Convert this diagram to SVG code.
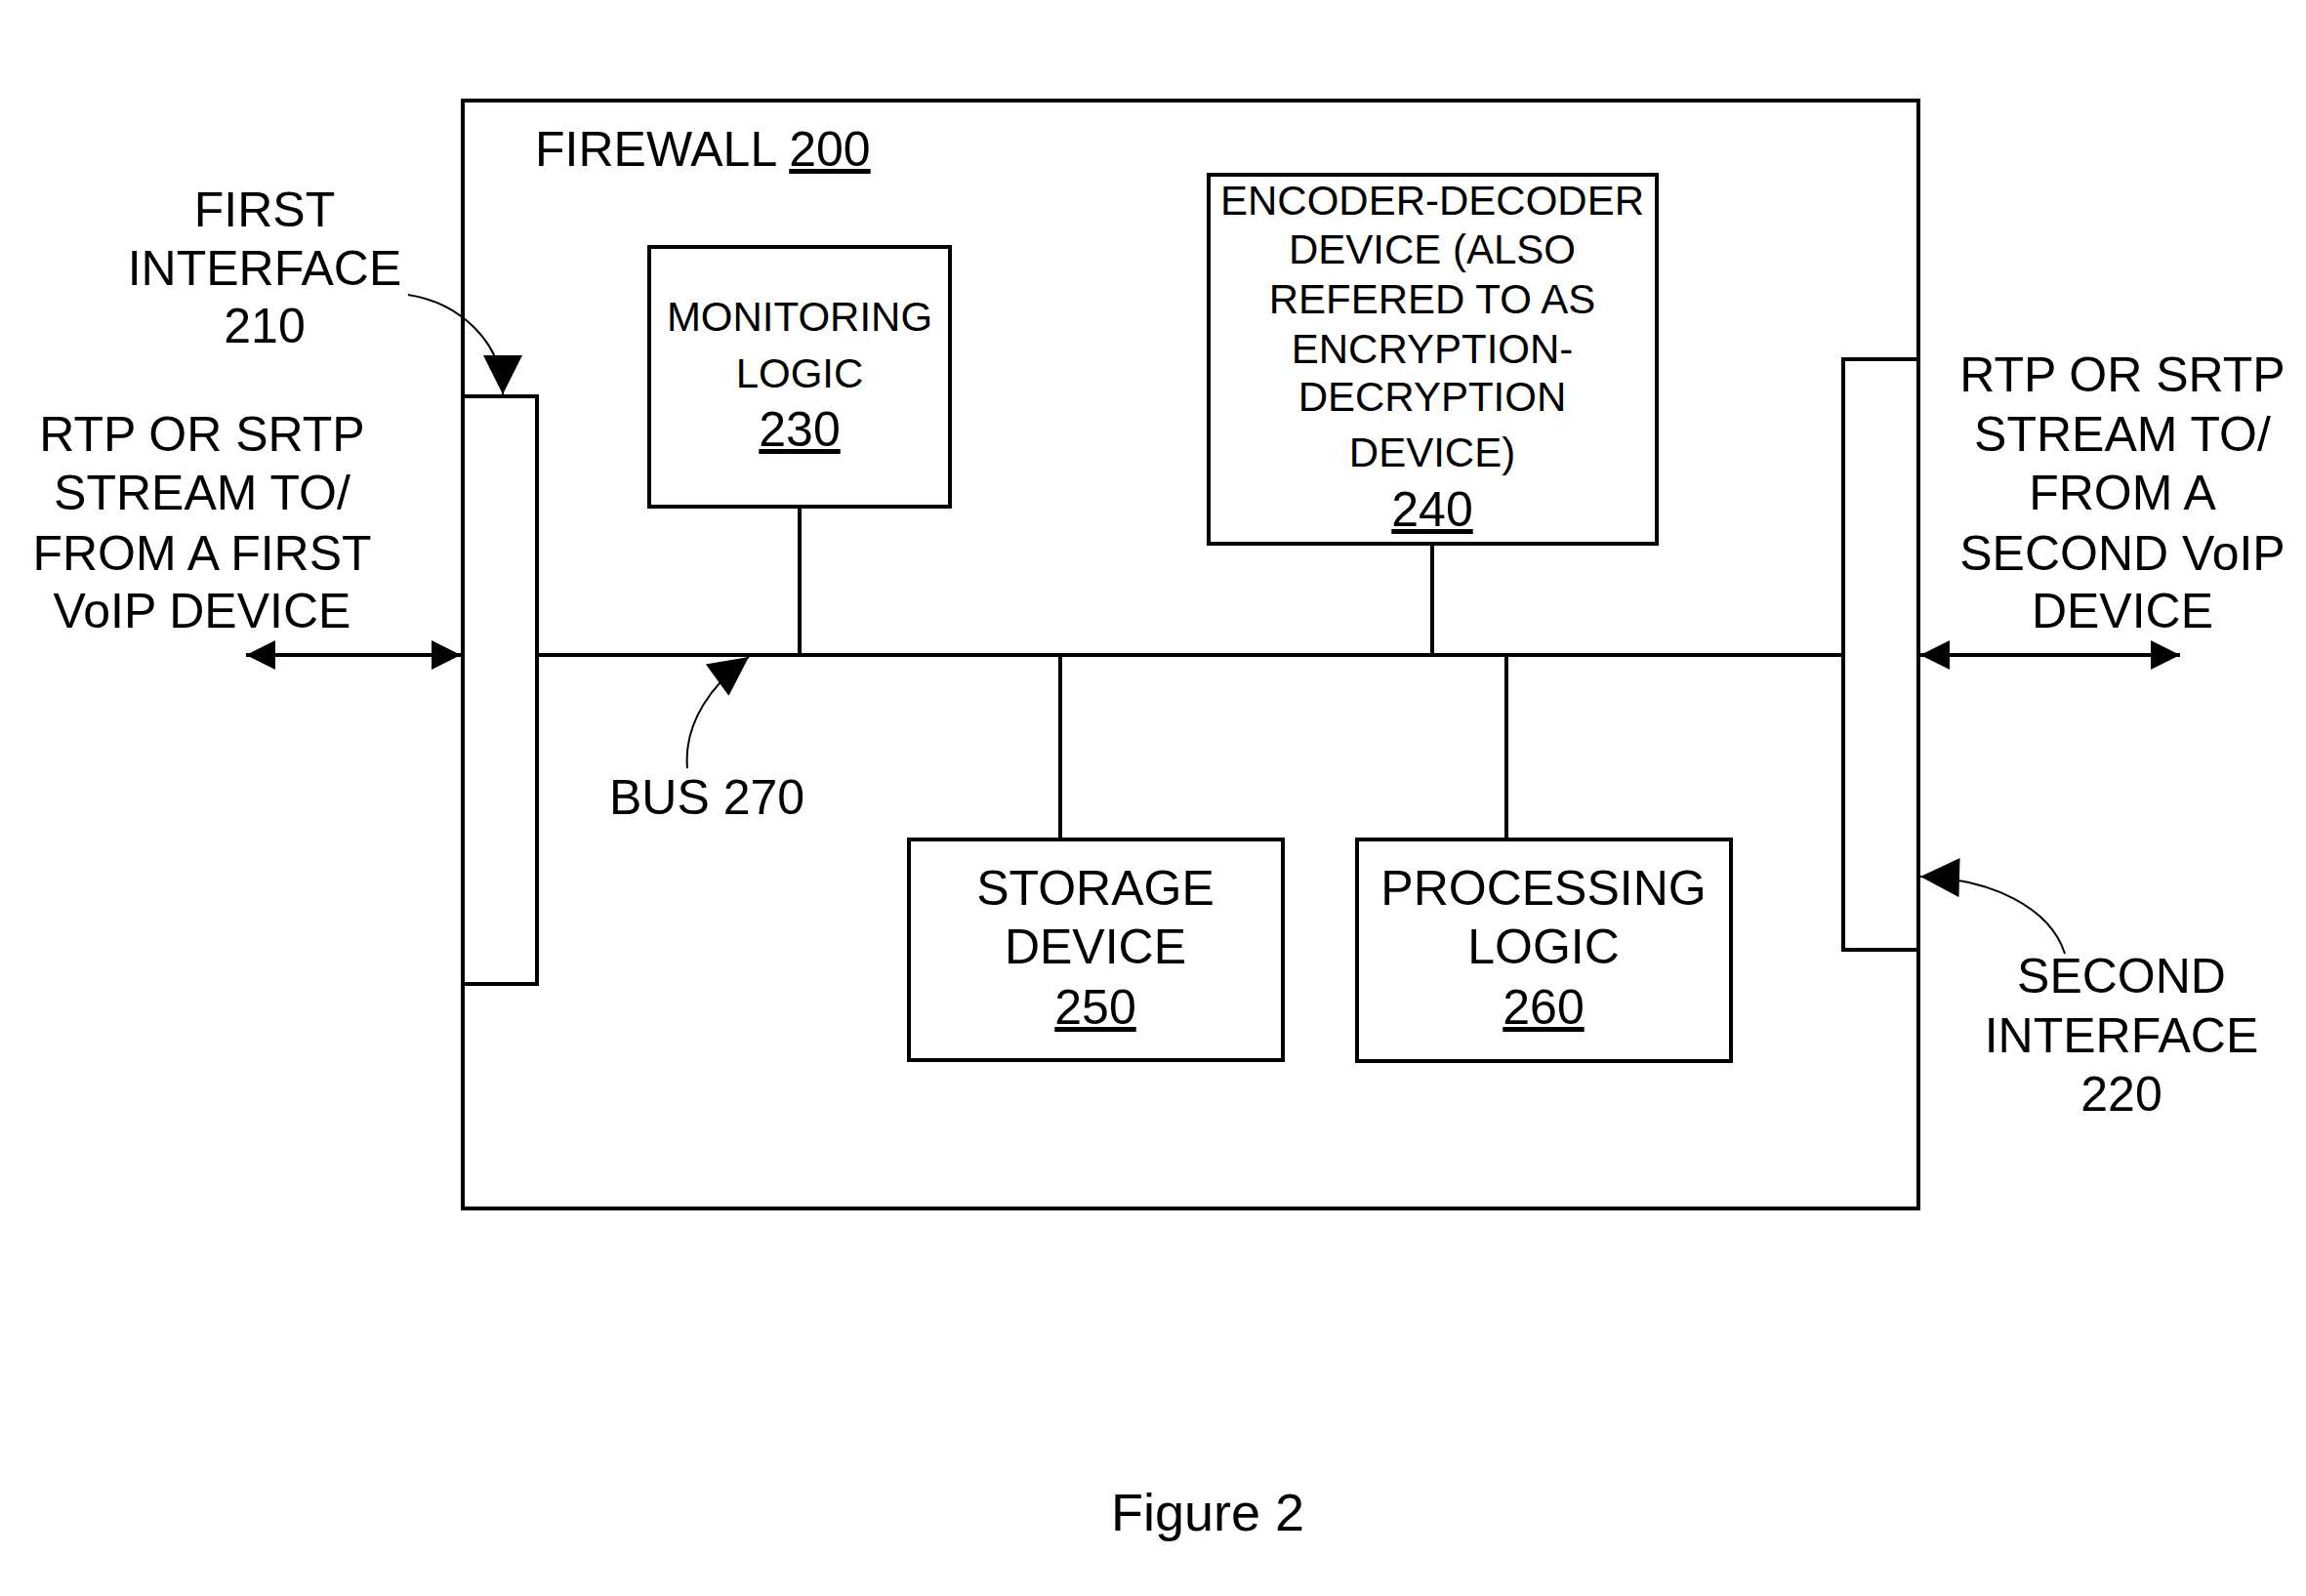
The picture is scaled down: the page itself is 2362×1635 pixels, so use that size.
<svg xmlns="http://www.w3.org/2000/svg" width="2362" height="1635" viewBox="0 0 2362 1635">
<style>
.b{fill:none;stroke:#000;stroke-width:4}
.t{font-family:"Liberation Sans",Arial,sans-serif;fill:#000;text-anchor:middle}
.l{font-size:50px}
.s{font-size:42px}
.c{fill:none;stroke:#000;stroke-width:2}
</style>
<defs>
<marker id="a" viewBox="0 0 10 10" refX="10" refY="5" markerWidth="9" markerHeight="7" markerUnits="userSpaceOnUse" orient="auto-start-reverse" style="overflow:visible"><path d="M0,0L10,5L0,10z" transform="scale(4.5,3)" /></marker>
<marker id="m" viewBox="0 0 10 10" refX="10" refY="5" markerWidth="22" markerHeight="20" orient="auto"><path d="M0,0L10,5L0,10z"/></marker>
<marker id="h" viewBox="0 0 10 10" refX="10" refY="5" markerWidth="45" markerHeight="30" markerUnits="userSpaceOnUse" orient="auto-start-reverse"><path d="M0,0L10,5L0,10z"/></marker>
</defs>
<rect width="2362" height="1635" fill="#fff"/>
<g id="firewall"><rect class="b" x="474" y="103" width="1491" height="1135"/>
<text class="t l" x="548" y="170" text-anchor="start" style="text-anchor:start">FIREWALL <tspan text-decoration="underline">200</tspan></text></g>
<g id="if210"><rect class="b" x="474" y="406" width="76" height="602" fill="#fff"/></g>
<g id="if220"><rect class="b" x="1888" y="368" width="77" height="605" fill="#fff"/></g>
<g id="connectors">
<path class="b" d="M550 671H1888M819 519V671M1467 557V671M1086 671V860M1543 671V860"/>
<path class="b" d="M252 671H472" marker-start="url(#h)" marker-end="url(#h)"/>
<path class="b" d="M1967 671H2233" marker-start="url(#h)" marker-end="url(#h)"/>
<path class="c" d="M418 302C470 310 515 350 515 404" marker-end="url(#m)"/>
<path class="c" d="M2115 977C2100 930 2040 900 1967 898" marker-end="url(#m)"/>
<path class="c" d="M704 787C700 740 730 700 767 673" marker-end="url(#m)"/>
</g>
<g id="n230"><rect class="b" x="665" y="253" width="308" height="266"/>
<text class="t s" x="819" y="339">MONITORING</text><text class="t s" x="819" y="397">LOGIC</text><text class="t l" x="819" y="457" text-decoration="underline">230</text></g>
<g id="n240"><rect class="b" x="1238" y="179" width="459" height="378"/>
<text class="t s" x="1467" y="220">ENCODER-DECODER</text><text class="t s" x="1467" y="270">DEVICE (ALSO</text><text class="t s" x="1467" y="321">REFERED TO AS</text><text class="t s" x="1467" y="372">ENCRYPTION-</text><text class="t s" x="1467" y="421">DECRYPTION</text><text class="t s" x="1467" y="478">DEVICE)</text><text class="t l" x="1467" y="539" text-decoration="underline">240</text></g>
<g id="n250"><rect class="b" x="931" y="860" width="383" height="226"/>
<text class="t l" x="1122" y="927">STORAGE</text><text class="t l" x="1122" y="987">DEVICE</text><text class="t l" x="1122" y="1049" text-decoration="underline">250</text></g>
<g id="n260"><rect class="b" x="1390" y="860" width="383" height="227"/>
<text class="t l" x="1581" y="927">PROCESSING</text><text class="t l" x="1581" y="987">LOGIC</text><text class="t l" x="1581" y="1049" text-decoration="underline">260</text></g>
<g id="labels">
<text class="t l" x="271" y="232">FIRST</text><text class="t l" x="271" y="292">INTERFACE</text><text class="t l" x="271" y="351">210</text>
<text class="t l" x="207" y="462">RTP OR SRTP</text><text class="t l" x="207" y="522">STREAM TO/</text><text class="t l" x="207" y="584">FROM A FIRST</text><text class="t l" x="207" y="643">VoIP DEVICE</text>
<text class="t l" x="2174" y="401">RTP OR SRTP</text><text class="t l" x="2174" y="462">STREAM TO/</text><text class="t l" x="2174" y="522">FROM A</text><text class="t l" x="2174" y="584">SECOND VoIP</text><text class="t l" x="2174" y="643">DEVICE</text>
<text class="t l" x="2173" y="1017">SECOND</text><text class="t l" x="2173" y="1078">INTERFACE</text><text class="t l" x="2173" y="1138">220</text>
<text class="t l" x="724" y="834">BUS 270</text>
<text class="t" x="1237" y="1568" font-size="54">Figure 2</text>
</g>
</svg>
